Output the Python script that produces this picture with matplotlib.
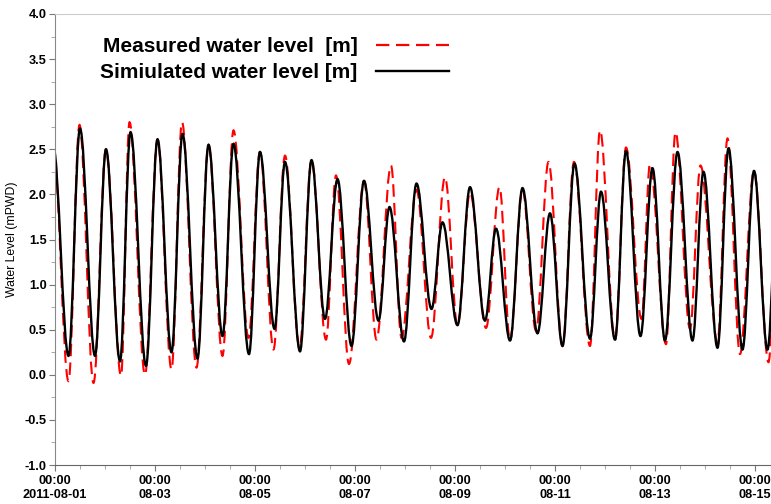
import datetime as dt
import matplotlib
matplotlib.use("Agg")
import matplotlib.pyplot as plt
import matplotlib.dates as mdates
from matplotlib.path import Path
from matplotlib.patches import PathPatch
from matplotlib.lines import Line2D
from matplotlib.ticker import MultipleLocator, FuncFormatter

plt.rcParams['font.family'] = ['Liberation Sans', 'DejaVu Sans']

# turning points (highs and lows), time in days after 2011-08-01 00:00
sim_t = [-0.04, 0.27, 0.50, 0.80, 1.02, 1.30, 1.51, 1.82, 2.05, 2.33, 2.55, 2.85, 3.07, 3.35,
         3.57, 3.88, 4.10, 4.39, 4.60, 4.90, 5.13, 5.40, 5.65, 5.93, 6.18, 6.47, 6.69, 6.98,
         7.23, 7.53, 7.75, 8.05, 8.30, 8.60, 8.82, 9.10, 9.35, 9.65, 9.90, 10.15, 10.39, 10.70,
         10.92, 11.20, 11.42, 11.71, 11.95, 12.20, 12.45, 12.75, 12.97, 13.25, 13.47, 13.75,
         13.98, 14.25, 14.48]
sim_v = [2.55, 0.21, 2.73, 0.21, 2.50, 0.15, 2.69, 0.10, 2.61, 0.25, 2.67, 0.18, 2.55, 0.43,
         2.56, 0.23, 2.47, 0.51, 2.36, 0.26, 2.38, 0.62, 2.17, 0.32, 2.15, 0.60, 1.86, 0.37,
         2.12, 0.73, 1.69, 0.55, 2.08, 0.60, 1.62, 0.38, 2.07, 0.46, 1.79, 0.32, 2.34, 0.40,
         2.03, 0.39, 2.48, 0.43, 2.29, 0.38, 2.47, 0.38, 2.25, 0.30, 2.51, 0.28,
         2.26, 0.28, 2.45]

obs_t = [-0.04, 0.27, 0.49, 0.77, 1.02, 1.32, 1.49, 1.80, 2.05, 2.33, 2.54, 2.83, 3.07, 3.35,
         3.57, 3.87, 4.10, 4.37, 4.60, 4.89, 5.13, 5.42, 5.62, 5.88, 6.18, 6.43, 6.72, 6.93,
         7.23, 7.52, 7.80, 8.05, 8.30, 8.62, 8.89, 9.10, 9.35, 9.62, 9.87, 10.15, 10.38, 10.70,
         10.90, 11.20, 11.42, 11.73, 11.90, 12.22, 12.41, 12.70, 12.91, 13.25, 13.45, 13.70,
         13.98, 14.27, 14.48]
obs_v = [2.55, -0.07, 2.77, -0.09, 2.50, -0.01, 2.80, 0.00, 2.61, 0.06, 2.80, 0.08, 2.55, 0.21,
         2.71, 0.41, 2.47, 0.28, 2.43, 0.30, 2.38, 0.39, 2.21, 0.12, 2.15, 0.39, 2.32, 0.41,
         2.05, 0.41, 2.19, 0.55, 2.02, 0.52, 2.08, 0.38, 2.05, 0.49, 2.36, 0.32, 2.36, 0.32,
         2.71, 0.39, 2.52, 0.62, 2.34, 0.34, 2.69, 0.51, 2.32, 0.36, 2.62, 0.23,
         2.26, 0.14, 2.50]

start = mdates.date2num(dt.datetime(2011, 8, 1))


def tide_path(t, v):
    # smooth curve through the turning points, flat at every high and low
    x = [start + d for d in t]
    verts = [(x[0], v[0])]
    codes = [Path.MOVETO]
    for i in range(len(x) - 1):
        h = x[i + 1] - x[i]
        verts += [(x[i] + 0.363 * h, v[i]), (x[i + 1] - 0.363 * h, v[i + 1]), (x[i + 1], v[i + 1])]
        codes += [Path.CURVE4] * 3
    return Path(verts, codes)


fig = plt.figure(figsize=(7.71, 5.04), dpi=100)
ax = fig.add_axes([55 / 771, 1 - 465 / 504, 716 / 771, 451 / 504])

ax.add_patch(PathPatch(tide_path(obs_t, obs_v), facecolor='none', edgecolor='#ff0000',
                       lw=1.5, linestyle=(0, (6, 3))))
ax.add_patch(PathPatch(tide_path(sim_t, sim_v), facecolor='none', edgecolor='black', lw=1.7))

ax.set_xlim(start, start + 14.32)
ax.set_ylim(-1.0, 4.0)

ax.yaxis.set_major_locator(MultipleLocator(0.5))
ax.yaxis.set_minor_locator(MultipleLocator(0.25))
ax.yaxis.set_major_formatter(FuncFormatter(lambda y, p: '%.1f' % y))

ax.xaxis.set_major_locator(mdates.DayLocator(bymonthday=range(1, 32, 2)))
ax.xaxis.set_minor_locator(mdates.HourLocator(byhour=[0, 12]))


def date_label(x, pos):
    d = mdates.num2date(x)
    if d.day == 1:
        return d.strftime('%H:%M\n%Y-%m-%d')
    return d.strftime('%H:%M\n%m-%d')


ax.xaxis.set_major_formatter(FuncFormatter(date_label))

for lab in ax.get_xticklabels() + ax.get_yticklabels():
    lab.set_fontweight('bold')
ax.tick_params(axis='both', which='major', labelsize=9.2, length=4, color='#777777', pad=2)
ax.tick_params(axis='both', which='minor', length=3, color='#999999')
ax.tick_params(axis='x', which='major', pad=3)

ax.spines['right'].set_visible(False)
ax.spines['top'].set_color('#cccccc')
ax.spines['left'].set_color('#888888')
ax.spines['bottom'].set_color('#666666')

ax.set_ylabel('Water Level (mPWD)', fontsize=8.8, labelpad=5)

handles = [Line2D([], [], color='#ff0000', lw=1.6, linestyle=(0, (6, 3))),
           Line2D([], [], color='black', lw=1.7)]
ax.legend(handles, ['Measured water level  [m]', 'Simiulated water level [m]'],
          loc='upper left', bbox_to_anchor=(0.037, 0.99), frameon=False, markerfirst=False,
          handlelength=3.5, handletextpad=0.87, labelspacing=0.32,
          prop={'weight': 'bold', 'size': 15})

fig.savefig('out.png', dpi=100)
